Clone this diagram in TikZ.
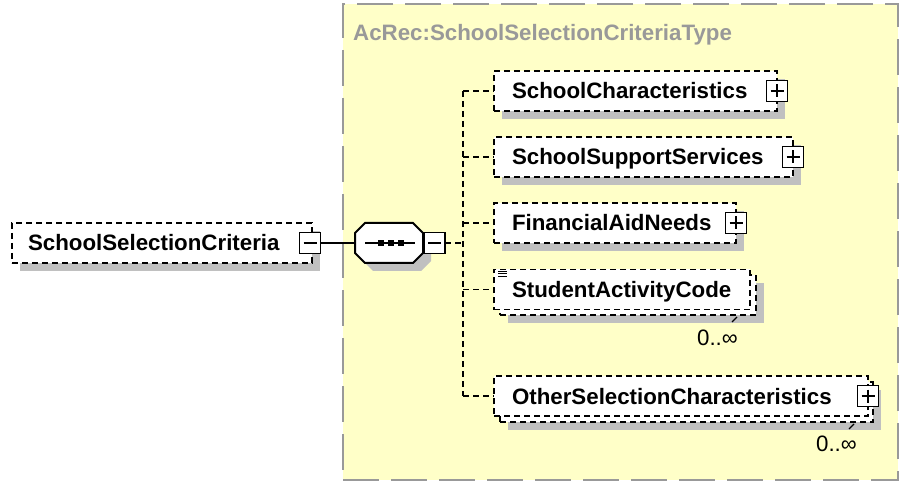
\documentclass[tikz,border=0pt]{standalone}
\usepackage{fontspec}
\setmainfont{Liberation Sans}
\usetikzlibrary{positioning,calc,shadows}
\definecolor{typefill}{RGB}{255,255,200}
\definecolor{typeline}{RGB}{153,153,153}
\definecolor{shadowgray}{RGB}{192,192,192}
\newcommand{\xsdfont}{\fontsize{22.3}{26}\selectfont\hyphenpenalty=10000 }

\tikzset{
  elembox/.style={draw, line width=1.9pt, dash pattern=on 6pt off 4pt, fill=white,
    minimum height=40pt, inner sep=0pt, outer sep=0pt, anchor=west},
  elem/.style={elembox, inner xsep=18pt, align=left, text height=16pt, text depth=0pt,
    font=\xsdfont\bfseries},
  shade/.style={drop shadow={shadow xshift=8pt, shadow yshift=-8pt, fill=shadowgray, opacity=1}},
  pmbox/.style={draw, line width=1.9pt, fill=white, minimum size=21pt, inner sep=0pt, outer sep=0pt},
  minusbox/.style={pmbox, path picture={\draw[line width=1.7pt]
    ([xshift=4pt]path picture bounding box.west) -- ([xshift=-4pt]path picture bounding box.east);}},
  plusbox/.style={pmbox, path picture={\draw[line width=1.7pt]
    ([xshift=4pt]path picture bounding box.west) -- ([xshift=-4pt]path picture bounding box.east)
    ([yshift=-4pt]path picture bounding box.north) -- ([yshift=4pt]path picture bounding box.south);}},
  conn/.style={line width=1.9pt, dash pattern=on 6pt off 4pt},
  mult/.style={font=\xsdfont, inner sep=0pt, text height=16pt, text depth=0pt, anchor=east},
}

\begin{document}
\begin{tikzpicture}[x=1pt, y=-1pt]
  \useasboundingbox (0,0) rectangle (900,481);
  \node[draw=typeline, fill=typefill, line width=2.2pt, dash pattern=on 36pt off 12pt, outer sep=0pt,
        minimum width=555pt, minimum height=476pt, anchor=north west] (typeBox) at (343,4) {};
  \node[font=\xsdfont\bfseries, text=typeline, inner sep=0pt, text height=16pt, text depth=0pt,
        anchor=west] (typeTitle) at (353,33) {AcRec:SchoolSelectionCriteriaType};

  \node[elem, shade, inner xsep=16pt, text width=268pt] (root) at (12,243) {SchoolSelectionCriteria};
  \node[minusbox] (rootMinus) at ([xshift=-2pt]root.east) {};

  \node[inner sep=0pt, outer sep=0pt, minimum width=68pt, minimum height=40pt] (seq) at (389,243) {};
  \draw[line width=1.9pt] (rootMinus) -- (seq);
  \fill[shadowgray] (363,241) -- ++(10,-10) -- ++(48,0) -- ++(10,10) -- ++(0,20)
        -- ++(-10,10) -- ++(-48,0) -- ++(-10,-10) -- cycle;
  \filldraw[fill=white, line width=2pt] (355,233) -- ++(10,-10) -- ++(48,0) -- ++(10,10)
        -- ++(0,20) -- ++(-10,10) -- ++(-48,0) -- ++(-10,-10) -- cycle;
  \draw[line width=1.7pt] ([xshift=10pt]seq.west) -- ([xshift=-8pt]seq.east);
  \foreach \dx in {-8.5,1.5,11.5}
    \fill ($(seq.center)+(\dx,0)$) +(-3,-3) rectangle +(3,3);
  \node[minusbox, right=1pt of seq] (seqMinus) {};

  \node[elem, shade, text width=247pt] (schChar) at (494,91) {SchoolCharacteristics};
  \node[elem, shade, text width=263pt] (schSupport) at (494,157) {SchoolSupportServices};
  \node[elem, shade, text width=206pt] (finAid) at (494,223) {FinancialAidNeeds};
  \node[elembox, shade, minimum width=256pt] (actCodeBack) at (500,295) {};
  \node[elem, text width=220pt] (actCode) at (494,289.5) {StudentActivityCode};
  \node[elembox, shade, minimum width=373pt] (otherSelBack) at (500,402) {};
  \node[elem, text width=338pt] (otherSel) at (494,396) {OtherSelectionCharacteristics};

  \coordinate (fork) at (463,243);
  \draw[conn] (seqMinus) -- (fork);
  \draw[conn] (fork |- schChar.west) -- (fork |- otherSel.west);
  \foreach \child in {schChar,schSupport,finAid,actCode,otherSel}
    \draw[conn] (fork |- \child.west) -- (\child.west);

  \node[plusbox] (schCharPlus) at (schChar.east) {};
  \node[plusbox] (schSupportPlus) at (schSupport.east) {};
  \node[plusbox] (finAidPlus) at (finAid.east) {};
  \node[plusbox] (otherSelPlus) at (otherSel.east) {};

  \foreach \dy in {2,4.5,7}
    \draw[line width=1pt] ([xshift=4pt,yshift=-\dy pt]actCode.north west) -- ++(9,0);
  \draw[line width=1.2pt] ([xshift=-24pt,yshift=-7pt]actCodeBack.south east) -- ++(5,-5);
  \draw[line width=1.2pt] ([xshift=-24pt,yshift=-7pt]otherSelBack.south east) -- ++(5,-5);
  \node[mult] (actCodeMult) at ([xshift=-18pt,yshift=-22pt]actCodeBack.south east) {0..∞};
  \node[mult] (otherSelMult) at ([xshift=-16pt,yshift=-21pt]otherSelBack.south east) {0..∞};
\end{tikzpicture}
\end{document}
